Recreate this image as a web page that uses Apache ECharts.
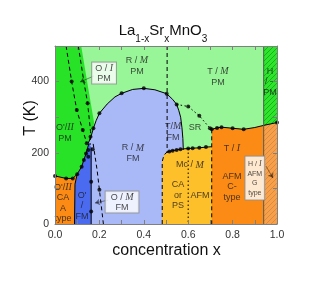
<!DOCTYPE html>
<html><head><meta charset="utf-8">
<script src="https://cdn.jsdelivr.net/npm/echarts@6/dist/echarts.min.js"></script>
<style>html,body{margin:0;padding:0;background:#fff}#c{width:314px;height:283px}</style>
</head><body><div id="c"></div>
<script>
// ---------- tick labels ----------
const xTickLabels = ['0.0','0.2','0.4','0.6','0.8','1.0'];
const yTickLabels = ['0','200','400'];

// ---------- phase boundaries (x = Sr concentration, y = T in K) ----------
const plotBox = [[0,0],[1,0],[1,500],[0,500]];
const greenOrangeLine = [[0,135],[0.05,128],[0.08,128],[0.10,140],[0.12,161],[0.13,180],[0.14,198],[0.152,225]];
const brightGreenEdge = [[0.162,245],[0.173,269],[0.176,285],[0.15,380],[0.118,500],[0,500]];
const domeLine = [[0.15,227],[0.162,245],[0.173,269],[0.185,290],[0.2,311],[0.235,337],[0.27,357],[0.30,367],[0.35,378],[0.40,381],[0.45,377],[0.503,366],[0.53,350],[0.548,336],[0.558,318],[0.566,300],[0.572,270],[0.576,240],[0.578,208]];
const caOrangeRegion = [[0,0],[0,135],[0.05,128],[0.08,128],[0.10,140],[0.12,161],[0.13,180],[0.14,198],[0.152,225],[0.152,0]];
const darkBlueRegion = [[0.088,0],[0.09,112],[0.105,141],[0.12,163],[0.132,186],[0.142,206],[0.153,228],[0.163,215],[0.163,0]];
const goldTopLine = [[0.50,200],[0.515,204],[0.53,206],[0.548,208],[0.565,210],[0.578,211],[0.60,212],[0.62,213],[0.65,214],[0.68,216],[0.706,217]];
const goldLeftLine = [[0.483,0],[0.483,175],[0.49,192],[0.50,200]];
const orangeTopLine = [[0.706,266],[0.73,270],[0.75,272],[0.80,269],[0.85,266],[0.90,271],[0.94,277],[0.97,281],[1.0,285]];
const srLine = [[0.548,336],[0.60,330],[0.65,304],[0.698,269]];
const dashedLine1 = [[0.05,500],[0.075,400],[0.098,320],[0.125,264],[0.143,227]];
const dashedLine2 = [[0.105,500],[0.13,400],[0.147,339],[0.16,260],[0.158,222]];
const blueDashedLine = [[0.172,225],[0.19,150],[0.20,96],[0.218,0]];
const darkBlueRightLine = [[0.163,215],[0.163,0]];
const darkBlueLeftLine = [[0.088,0],[0.09,112],[0.10,140]];
const vLine05 = [[0.505,500],[0.505,200]];
const vLine06 = [[0.60,212],[0.60,0]];
const vLine07 = [[0.706,266],[0.706,0]];
const vLineHatch = [[0.94,0],[0.94,500]];

const dots = [
  [0,135],[0.05,128],[0.08,128],[0.10,140],[0.12,161],[0.13,180],[0.14,198],
  [0.075,400],[0.098,320],[0.125,264],[0.143,227],[0.147,339],[0.16,245],
  [0.15,208],[0.17,210],[0.15,189],[0.20,96],[0.163,119],[0.163,35],
  [0.173,269],[0.20,311],[0.30,367],[0.40,381],[0.503,366],[0.548,336],
  [0.60,330],[0.65,304],[0.698,269],
  [0.515,204],[0.53,206],[0.548,208],[0.565,210],[0.60,212],[0.62,213],[0.65,214],[0.68,216],
  [0.706,266],[0.73,270],[0.75,272],[0.80,269],[0.85,266],[1.0,285]
];

// ---------- annotation texts and anchors ----------
const labelTexts = [
  "O'/{i|II}\nPM", 'R / {i|M}\nPM', 'T / {i|M}\nPM', 'H\n/ –\nPM', 'R / {i|M}\nFM',
  'T/{i|M}\nFM', 'SR', 'Mc / {i|M}', 'CA\nor\nPS', 'AFM', 'T / {i|I}', 'AFM\nC-\ntype',
  "O'/{i|II}\nCA\nA\ntype", "O'\n/\nFM"
];
const labelAnchors = [
  [0.045,256],[0.369,444],[0.734,413],[0.968,399],[0.351,199],
  [0.532,259],[0.631,270],[0.608,166],[0.554,81],[0.653,81],[0.797,213],[0.797,104],
  [0.036,59],[0.122,51]
];
const boxTexts = ['O / {i|I}\nPM', 'O / {i|M}\nFM', 'H / {i|I}\nAFM\nG\ntype'];
const boxAnchors = [[0.221,424],[0.302,62],[0.9,129]];
const arrows = [
  [[0.176,416],[0.113,399]],
  [[0.239,67],[0.18,59]],
  [[0.95,163],[0.982,129]]
];

// ---------- build ----------
const FONT = '"Liberation Sans", Arial, sans-serif';
const C = {
  light: '#98f598', bright: '#27e227', blue: '#a9b9f7', dark: '#4a6bf0',
  orange: '#fb8b14', gold: '#fdbf2a', axis: '#808080'
};
function hatch(bg, fg) {
  const cv = document.createElement('canvas');
  cv.width = 5; cv.height = 5;
  const g = cv.getContext('2d');
  g.fillStyle = bg; g.fillRect(0,0,5,5);
  g.strokeStyle = fg; g.lineWidth = 1;
  g.beginPath();
  g.moveTo(0,5); g.lineTo(5,0);
  g.moveTo(-1,1); g.lineTo(1,-1);
  g.moveTo(4,6); g.lineTo(6,4);
  g.stroke();
  return {image: cv, repeat: 'repeat'};
}
function poly(points, fill) {
  return {type:'custom', coordinateSystem:'cartesian2d', data:[[0,0]], silent:true, z:1, animation:false,
    renderItem: (p, api) => ({type:'polygon', shape:{points: points.map(pt => api.coord(pt))}, style:{fill: fill, stroke: null}})};
}
function line(points, type, color, width) {
  return {type:'line', data: points, symbol:'none', showSymbol:false, silent:true, z:3, animation:false,
    lineStyle:{color: color || '#000', width: width || 1, type: type || 'solid'}};
}

const blueRegion = [[0.15,0]].concat(domeLine, [[0.578,0]]);
const brightRegion = greenOrangeLine.concat(brightGreenEdge);
const goldRegion = goldLeftLine.concat(goldTopLine, [[0.706,0]]);
const orangeRegion = [[0.706,0]].concat(orangeTopLine.filter(p => p[0] <= 0.94), [[0.94,0]]);
const hatchOrange = [[0.94,0],[0.94,277],[0.97,281],[1.0,285],[1.0,0]];
const hatchGreen = [[0.94,277],[0.94,500],[1.0,500],[1.0,285],[0.97,281]];

const rich = {
  i: {fontStyle:'italic', fontFamily:'"Liberation Serif", serif', fontSize:10, color:'#1a1a1a'}
};
const richSmall = {
  i: {fontStyle:'italic', fontFamily:'"Liberation Serif", serif', fontSize:8, color:'#1a1a1a'}
};

const labelData = labelTexts.map((t, k) => ({value: labelAnchors[k], label: {formatter: t}}));
const boxData = boxTexts.map((t, k) => ({value: boxAnchors[k], label: {formatter: t,
  fontSize: k === 2 ? 7 : 9, lineHeight: k === 2 ? 9.5 : 10,
  padding: k === 2 ? [3,2,2,2] : (k === 0 ? [1,3,0,3] : [1,5,0,5]),
  rich: k === 2 ? richSmall : rich}}));

const series = [
  poly(plotBox, C.light),
  poly(brightRegion, C.bright),
  poly(blueRegion, C.blue),
  poly(caOrangeRegion, C.orange),
  poly(darkBlueRegion, C.dark),
  poly(goldRegion, C.gold),
  poly(orangeRegion, C.orange),
  poly(hatchOrange, hatch('#f8a048', '#d88a46')),
  poly(hatchGreen, hatch('#2ee52e', '#17b317')),
  line(greenOrangeLine),
  line(domeLine),
  line(goldTopLine),
  line(goldLeftLine, [4,3]),
  line(orangeTopLine),
  line(srLine, [1.5,2.5]),
  line(dashedLine1, [4,3]),
  line(dashedLine2, [4,3]),
  line(blueDashedLine, [4,3]),
  line(darkBlueRightLine),
  line(darkBlueLeftLine),
  line(vLine05, [4,3]),
  line(vLine06, [1.5,2.5]),
  line(vLine07, [4,3]),
  line(vLineHatch, 'solid', '#555'),
  {type:'scatter', data: dots, symbolSize:4, itemStyle:{color:'#000'}, silent:true, z:4, animation:false},
  {type:'lines', coordinateSystem:'cartesian2d', data: arrows.map(a => ({coords: a})), symbol:['none','arrow'], symbolSize:5,
    lineStyle:{color:'#000', width:0.8}, silent:true, z:5, animation:false},
  {type:'scatter', data: labelData, symbolSize:0, silent:true, z:6, animation:false,
    label:{show:true, position:'inside', color:'#1a1a1a', fontSize:9, lineHeight:10.5, fontFamily:FONT, align:'center', rich: rich}},
  {type:'scatter', data: boxData, symbolSize:0, silent:true, z:7, animation:false,
    label:{show:true, position:'inside', color:'#1a1a1a', fontFamily:FONT, align:'center',
      backgroundColor:'#fff', borderColor:'#909090', borderWidth:1}}
];

// title composed of pieces (subscripts)
const titleParts = [['La',0],['1-x',1],['Sr',0],['x',1],['MnO',0],['3',1]];
const mctx = document.createElement('canvas').getContext('2d');
function tw(t, s) { mctx.font = s + 'px "Liberation Sans"'; return mctx.measureText(t).width; }
const sizes = [15, 10];
let totalW = titleParts.reduce((a, p) => a + tw(p[0], sizes[p[1]]), 0);
let cx = 163 - totalW / 2;
const graphics = [];
titleParts.forEach(p => {
  graphics.push({type:'text', x: cx, y: p[1] ? 39.5 : 30.5, silent:true, z:20,
    style:{text: p[0], fontSize: sizes[p[1]], fontFamily: FONT, fill:'#111', align:'left', verticalAlign:'middle'}});
  cx += tw(p[0], sizes[p[1]]);
});
graphics.push({type:'text', x:31, y:118, rotation: Math.PI/2, silent:true, z:20,
  style:{text:'T (K)', fontSize:16, fontFamily:FONT, fill:'#111', align:'center', verticalAlign:'middle'}});
graphics.push({type:'text', x:166.5, y:251, silent:true, z:20,
  style:{text:'concentration x', fontSize:16, fontFamily:FONT, fill:'#111', align:'center', verticalAlign:'middle'}});

const axLine = {show:true, onZero:false, lineStyle:{color:C.axis, width:1}};
const axTick = {show:true, inside:true, length:4, lineStyle:{color:C.axis}};
const option = {
  animation:false,
  grid:{left:55, top:46, width:222, height:178, containLabel:false},
  xAxis:[
    {type:'value', min:0, max:1, interval:0.1, position:'bottom', z:10,
      axisLine:axLine, axisTick:axTick, splitLine:{show:false},
      axisLabel:{color:'#333', fontSize:10.5, fontFamily:FONT, margin:6,
        formatter: v => { const i = Math.round(v*10); return i % 2 === 0 ? xTickLabels[i/2] : ''; }}},
    {type:'value', min:0, max:1, interval:0.1, position:'top', z:10,
      axisLine:axLine, axisTick:axTick, splitLine:{show:false}, axisLabel:{show:false}}
  ],
  yAxis:[
    {type:'value', min:0, max:500, interval:100, position:'left', z:10,
      axisLine:axLine, axisTick:axTick, splitLine:{show:false},
      axisLabel:{color:'#333', fontSize:10.5, fontFamily:FONT, margin:6,
        formatter: v => (v % 200 === 0 && v / 200 < yTickLabels.length) ? yTickLabels[v/200] : ''}},
    {type:'value', min:0, max:500, interval:100, position:'right', z:10,
      axisLine:axLine, axisTick:axTick, splitLine:{show:false}, axisLabel:{show:false}}
  ],
  graphic: graphics,
  series: series
};
const chart = echarts.init(document.getElementById('c'), null, {renderer:'canvas'});
chart.setOption(option);
</script>
</body></html>
